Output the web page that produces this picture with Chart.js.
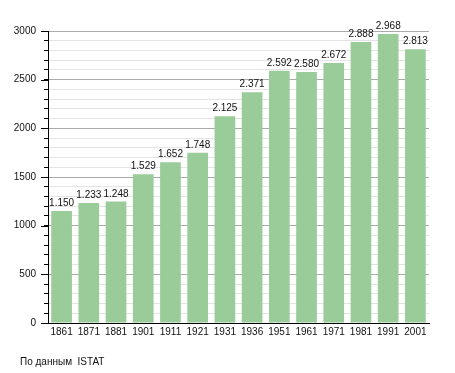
<!DOCTYPE html>
<html>
<head>
<meta charset="utf-8">
<script src="https://cdn.jsdelivr.net/npm/chart.js@4.4.0/dist/chart.umd.min.js"></script>
<style>
  html, body { margin: 0; padding: 0; background: #fff; }
  #wrap { position: relative; width: 455px; height: 373px; }
  #source {
    position: absolute; left: 20px; top: 356px;
    font: 10px "Liberation Sans", Arial, sans-serif; line-height: 12px;
    color: #111; white-space: pre;
  }
</style>
</head>
<body>
<div id="wrap">
  <canvas id="popChart" width="455" height="373"></canvas>
  <div id="source">По данным  ISTAT</div>
</div>
<script>
const years = ["1861", "1871", "1881", "1901", "1911", "1921", "1931", "1936", "1951", "1961", "1971", "1981", "1991", "2001"];
const population = [1150, 1233, 1248, 1529, 1652, 1748, 2125, 2371, 2592, 2580, 2672, 2888, 2968, 2813];
const yMajorTicks = [0, 500, 1000, 1500, 2000, 2500, 3000];

function formatThousands(v) {
  if (v < 1000) return String(v);
  return Math.floor(v / 1000) + "." + String(v % 1000).padStart(3, "0");
}

// value labels above each bar
const barLabels = {
  id: "barLabels",
  afterDatasetsDraw(chart) {
    const ctx = chart.ctx;
    const meta = chart.getDatasetMeta(0);
    ctx.save();
    ctx.font = '10px "Liberation Sans", Arial, sans-serif';
    ctx.fillStyle = "#111";
    ctx.textAlign = "center";
    ctx.textBaseline = "alphabetic";
    meta.data.forEach((bar, i) => {
      ctx.fillText(formatThousands(population[i]), bar.x, bar.y - 5);
    });
    ctx.restore();
  }
};

// longer tick marks at the labelled values
const majorTicks = {
  id: "majorTicks",
  afterDraw(chart) {
    const ctx = chart.ctx;
    const y = chart.scales.y;
    ctx.save();
    ctx.strokeStyle = "#000";
    ctx.lineWidth = 1;
    yMajorTicks.forEach(v => {
      const py = Math.round(y.getPixelForValue(v)) + 0.5;
      ctx.beginPath();
      ctx.moveTo(y.right - 7, py);
      ctx.lineTo(y.right, py);
      ctx.stroke();
    });
    ctx.restore();
  }
};

Chart.defaults.font.family = '"Liberation Sans", Arial, sans-serif';
Chart.defaults.font.size = 10;
Chart.defaults.color = "#111";

new Chart(document.getElementById("popChart").getContext("2d"), {
  type: "bar",
  data: {
    labels: years,
    datasets: [{
      data: population,
      backgroundColor: "#99cc99",
      borderWidth: 0,
      categoryPercentage: 1,
      barPercentage: 0.76
    }]
  },
  options: {
    responsive: false,
    animation: false,
    layout: { padding: { top: 31, right: 26, bottom: 30, left: 0 } },
    plugins: { legend: { display: false }, tooltip: { enabled: false } },
    scales: {
      x: {
        grid: { display: false, drawTicks: false },
        border: { display: true, color: "#000", width: 1 },
        ticks: { padding: 3, maxRotation: 0, autoSkip: false },
        afterFit(scale) { scale.height = 20; }
      },
      y: {
        min: 0,
        max: 3000,
        border: { display: true, color: "#000", width: 1 },
        grid: {
          color: c => (c.tick && c.tick.value % 500 === 0) ? "#aaaaaa" : "#e4e4e4",
          tickColor: "#000",
          tickLength: 4
        },
        ticks: {
          stepSize: 100,
          padding: 8,
          autoSkip: false,
          callback: v => (v % 500 === 0 ? String(v) : "")
        },
        afterFit(scale) { scale.width = 48; }
      }
    }
  },
  plugins: [barLabels, majorTicks]
});
</script>
</body>
</html>
